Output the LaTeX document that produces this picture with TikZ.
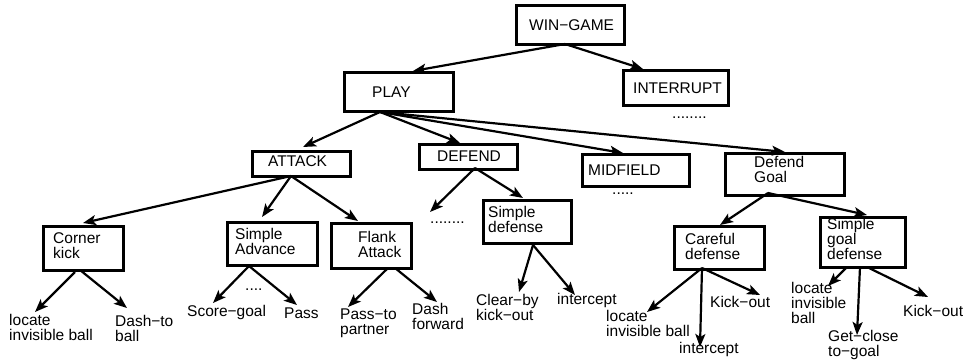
\documentclass[tikz,border=0pt]{standalone}
\usepackage{fontspec}
\setmainfont{Liberation Sans}
\usetikzlibrary{arrows.meta}
\tikzset{
  box/.style={draw, line width=2.6pt, inner sep=0pt, anchor=north west},
  txt/.style={inner sep=0pt, anchor=base west, align=left, font=\fontsize{15.5}{15}\selectfont},
  arr/.style={line width=2.2pt, -{Stealth[length=13pt,width=10pt,inset=3pt]}}
}
\begin{document}
\begin{tikzpicture}[x=1pt,y=-1pt]
\useasboundingbox (0,0) rectangle (965,362);
% boxes
\node[box, minimum width=108pt, minimum height=39pt] (win) at (515,4) {};
\node[box, minimum width=109pt, minimum height=39pt] (play) at (343,71) {};
\node[box, minimum width=105pt, minimum height=35pt] (intr) at (622,69) {};
\node[box, minimum width=98pt, minimum height=25pt] (att) at (251,150) {};
\node[box, minimum width=98pt, minimum height=25pt] (def) at (418,143) {};
\node[box, minimum width=107pt, minimum height=32pt] (mid) at (581,153) {};
\node[box, minimum width=119pt, minimum height=42pt] (dg) at (724,152) {};
\node[box, minimum width=80pt, minimum height=44pt] (ck) at (42,225) {};
\node[box, minimum width=90pt, minimum height=43pt] (sa) at (226,221) {};
\node[box, minimum width=80pt, minimum height=45pt] (fa) at (330,222) {};
\node[box, minimum width=88pt, minimum height=43pt] (sd) at (482,199) {};
\node[box, minimum width=90pt, minimum height=43pt] (cd) at (673,225) {};
\node[box, minimum width=85pt, minimum height=50pt] (sg) at (819,216) {};
% box texts (base = baseline of last line)
\node[txt] (wint) at (529,30) {WIN−GAME};
\node[txt] (playt) at (372,97) {PLAY};
\node[txt] (intrt) at (633,93) {INTERRUPT};
\node[txt] (attt) at (268,166) {ATTACK};
\node[txt] (deft) at (437,161) {DEFEND};
\node[txt] (midt) at (588,175) {MIDFIELD};
\node[txt] (dgt) at (754,182) {Defend\\Goal};
\node[txt] (ckt) at (53,258) {Corner\\kick};
\node[txt] (sat) at (235,254) {Simple\\Advance};
\node[txt] (fat) at (358,257) {Flank\\Attack};
\node[txt] (sdt) at (488,232) {Simple\\defense};
\node[txt] (cdt) at (685,259) {Careful\\defense};
\node[txt] (sgt) at (827,259) {Simple\\goal\\defense};
% dots
\node[txt] (d1) at (672,118) {........};
\node[txt] (d2) at (612,194) {.....};
\node[txt] (d3) at (430,223) {........};
\node[txt] (d4) at (245,290) {....};
% leaves
\node[txt] (l1) at (9,340) {locate\\invisible ball};
\node[txt] (l2) at (115,341) {Dash−to\\ball};
\node[txt] (l3) at (187,316) {Score−goal};
\node[txt] (l4) at (284,318) {Pass};
\node[txt] (l5) at (340,334) {Pass−to\\partner};
\node[txt] (l6) at (412,329) {Dash\\forward};
\node[txt] (l7) at (476,320) {Clear−by\\kick−out};
\node[txt] (l8) at (557,304) {intercept};
\node[txt] (l9) at (606,336) {locate\\invisible ball};
\node[txt] (l10) at (679,353) {intercept};
\node[txt] (l11) at (710,307) {Kick−out};
\node[txt] (l12) at (791,323) {locate\\invisible\\ball};
\node[txt] (l13) at (828,356) {Get−close\\to−goal};
\node[txt] (l14) at (903,316) {Kick−out};
% connector end points
\coordinate (winS) at (565,44);
\coordinate (playS) at (380,112);
\coordinate (attS) at (291,176);
\coordinate (defS) at (475,168);
\coordinate (dgS) at (768,193);
\coordinate (ckS1) at (75,272);
\coordinate (ckS2) at (80,270);
\coordinate (saS) at (249,266);
\coordinate (faS1) at (388,268);
\coordinate (faS2) at (395,268);
\coordinate (sdS) at (533,245);
\coordinate (cdS) at (702,268);
\coordinate (sgS1) at (847,267);
\coordinate (sgS2) at (860,267);
\coordinate (sgS3) at (867,267);
\coordinate (playN) at (413,71);
\coordinate (intrN) at (643,69);
\coordinate (attN) at (303,147);
\coordinate (defN) at (460,143);
\coordinate (midN) at (623,153);
\coordinate (dgN) at (785,152);
\coordinate (ckN) at (83,223);
\coordinate (saN) at (262,217);
\coordinate (faN) at (358,221);
\coordinate (d3N) at (430,212);
\coordinate (sdN) at (523,198);
\coordinate (cdN) at (720,225);
\coordinate (sgN) at (867,215);
\coordinate (l1N) at (35,312);
\coordinate (l2N) at (127,308);
\coordinate (l3N) at (213,303);
\coordinate (l4N) at (297,305);
\coordinate (l5N) at (348,307);
\coordinate (l6N) at (437,302);
\coordinate (l7N) at (519,292);
\coordinate (l8N) at (575,295);
\coordinate (l9N) at (647,312);
\coordinate (l10N) at (700,347);
\coordinate (l11N) at (760,295);
\coordinate (l12N) at (828,286);
\coordinate (l13N) at (857,335);
\coordinate (l14N) at (928,297);
% connectors
\draw[arr] (winS) -- (playN);
\draw[arr] (winS) -- (intrN);
\draw[arr] (playS) -- (attN);
\draw[arr] (playS) -- (defN);
\draw[arr] (playS) -- (midN);
\draw[arr] (playS) -- (dgN);
\draw[arr] (attS) -- (ckN);
\draw[arr] (attS) -- (saN);
\draw[arr] (attS) -- (faN);
\draw[arr] (defS) -- (d3N);
\draw[arr] (defS) -- (sdN);
\draw[arr] (dgS) -- (cdN);
\draw[arr] (dgS) -- (sgN);
\draw[arr] (ckS1) -- (l1N);
\draw[arr] (ckS2) -- (l2N);
\draw[arr] (saS) -- (l3N);
\draw[arr] (saS) -- (l4N);
\draw[arr] (faS1) -- (l5N);
\draw[arr] (faS2) -- (l6N);
\draw[arr] (sdS) -- (l7N);
\draw[arr] (sdS) -- (l8N);
\draw[arr] (cdS) -- (l9N);
\draw[arr] (cdS) -- (l10N);
\draw[arr] (cdS) -- (l11N);
\draw[arr] (sgS1) -- (l12N);
\draw[arr] (sgS2) -- (l13N);
\draw[arr] (sgS3) -- (l14N);
\end{tikzpicture}
\end{document}
